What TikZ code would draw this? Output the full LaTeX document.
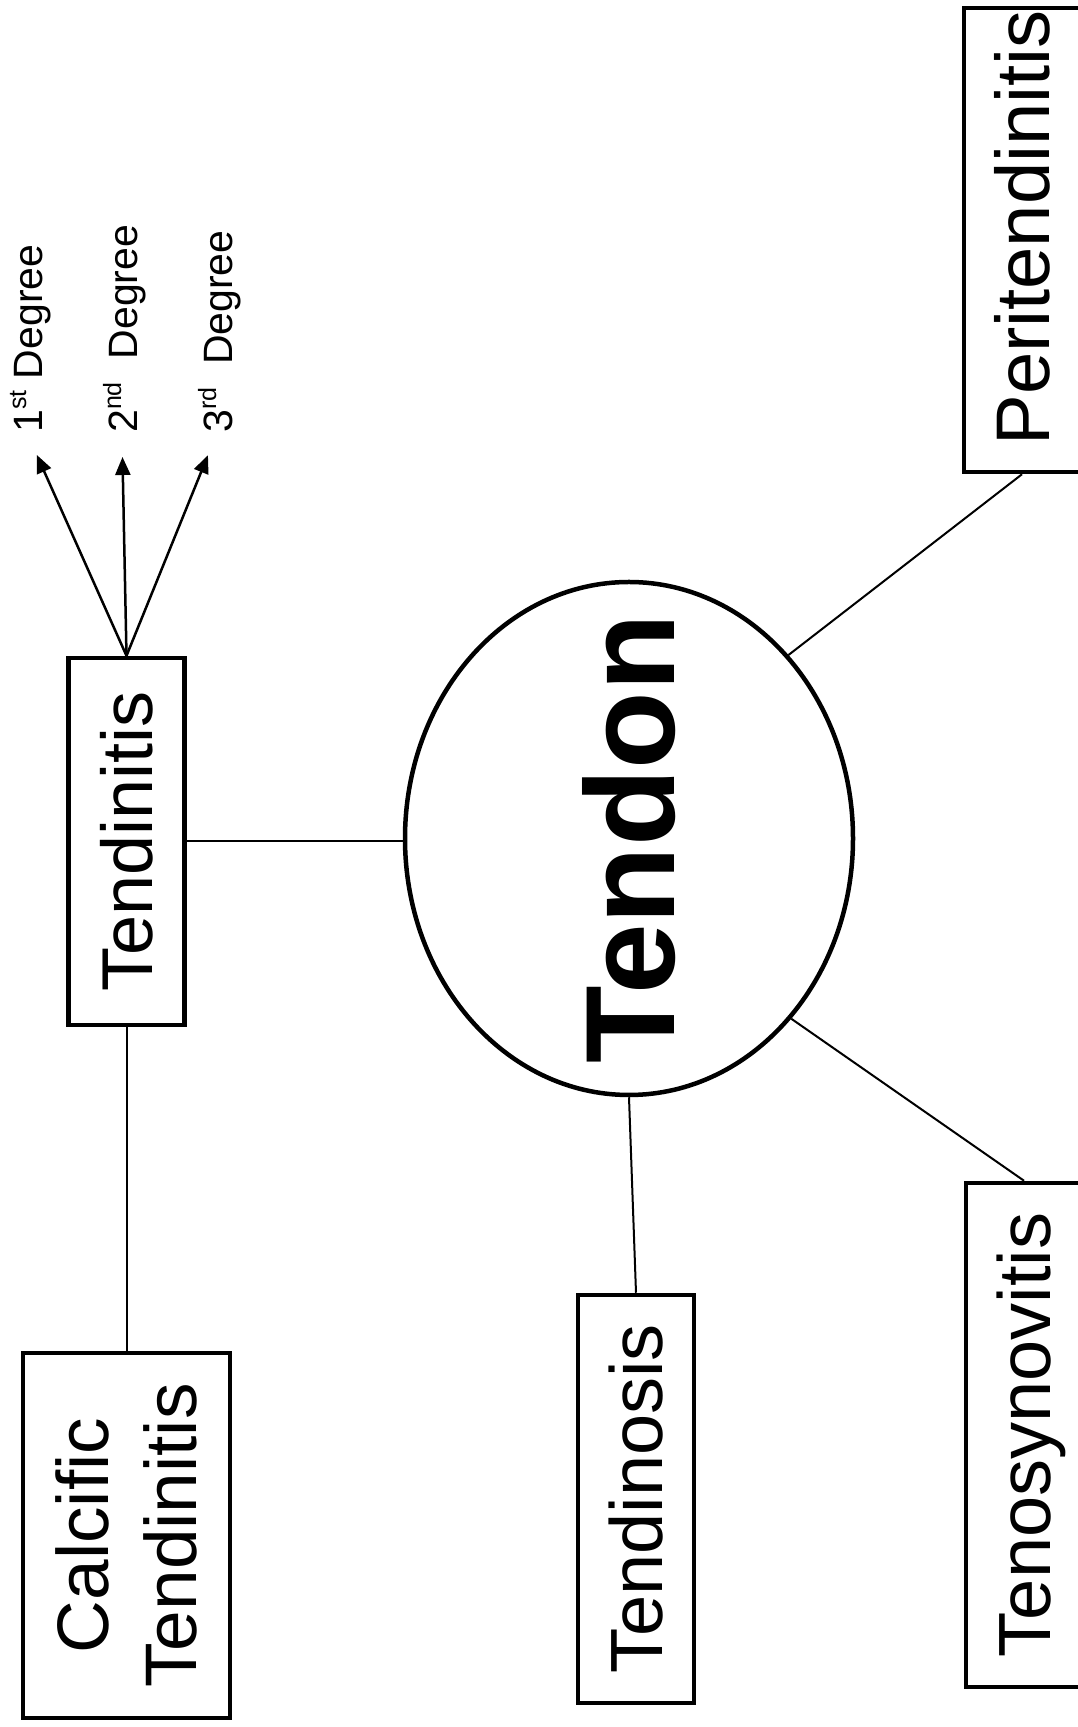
\documentclass[tikz,border=0pt]{standalone}
\usepackage{fontspec}
\setmainfont{Liberation Sans}
\usetikzlibrary{shapes.geometric,arrows.meta}
\newcommand{\degsup}[1]{\raisebox{16pt}{\fontsize{25}{25}\selectfont #1}}
\begin{document}
\begin{tikzpicture}[x=1pt,y=1pt,
  box/.style={draw, line width=4.5pt, rectangle, rotate=90, inner sep=0pt, minimum height=116pt, align=center},
  conn/.style={line width=2pt},
  arr/.style={line width=2.5pt, -{Triangle[length=18pt,width=15pt]}, shorten >=24pt},
  deg/.style={rotate=90, anchor=west, inner sep=0pt, text height=30pt, text depth=0pt, font=\fontsize{41}{49}\selectfont}
]
\useasboundingbox (0,0) rectangle (1077,1727);
\node[ellipse, draw, line width=4.5pt, rotate=90, minimum width=513pt, minimum height=448pt, inner sep=0pt, font=\bfseries\fontsize{127}{127}\selectfont] (tendon) at (629,888.5) {\makebox[0pt]{Tendon}};
\node[box, minimum width=367pt, font=\fontsize{72}{80}\selectfont] (tendinitis) at (126.5,885.5) {Tendinitis};
\node[box, minimum width=365pt, minimum height=207pt, font=\fontsize{73}{88}\selectfont] (calcific) at (126.5,191.5) {Calcific\\Tendinitis};
\node[box, minimum width=408pt, font=\fontsize{74}{80}\selectfont] (tendinosis) at (636,228) {Tendinosis};
\node[box, minimum width=504pt, text depth=0pt, font=\fontsize{74}{80}\selectfont] (teno) at (1024,292) {Tenosynovitis};
\node[box, minimum width=464pt, font=\fontsize{76}{84}\selectfont] (peri) at (1022,1487) {\hspace*{24pt}Peritendinitis};
\node[deg] (d1) at (27,1294) {1\degsup{st} Degree};
\node[deg] (d2) at (122,1294) {2\degsup{nd}\ \ Degree};
\node[deg] (d3) at (217,1294) {3\degsup{rd}\ \ Degree};
\draw[conn] (tendinitis.south) -- (tendinitis.south -| tendon.north);
\draw[conn] (tendinitis.west) -- (calcific.east);
\draw[conn] (tendon.west) -- (tendinosis.east);
\draw[conn] (tendon.-138.25) -- (teno.east);
\draw[conn] (tendon.-41.9) -- (peri.west);
\draw[arr] (tendinitis.east) -- (d1.west);
\draw[arr] (tendinitis.east) -- (d2.west);
\draw[arr] (tendinitis.east) -- (d3.west);
\end{tikzpicture}
\end{document}
